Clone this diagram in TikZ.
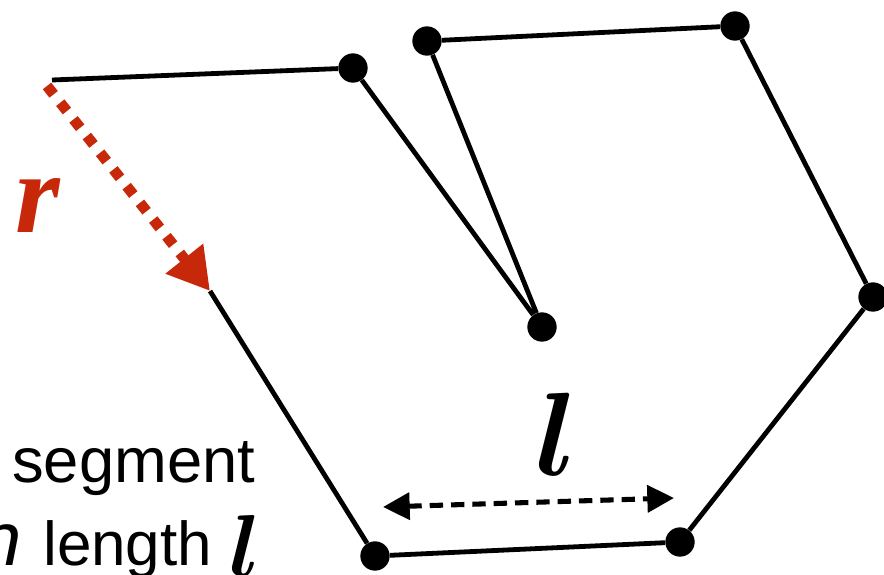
\documentclass[tikz,border=0pt]{standalone}
\usepackage{fix-cm}
\usepackage{amsmath}
\usepackage{fontspec}
\setmainfont{Liberation Serif}
\setsansfont{Liberation Sans}
\usepackage{xcolor}
\usetikzlibrary{arrows.meta}
\definecolor{cRadius}{HTML}{C8280A}
\tikzset{
  link/.style   = {line width=3.6pt, line join=round},
  joint/.style  = {circle, fill=black, inner sep=0pt, minimum size=22pt},
  rad/.style    = {draw=cRadius, line width=8pt, dash pattern=on 8pt off 8pt,
                   -{Triangle[length=31pt,width=34pt]}},
  span/.style   = {line width=3.8pt, dash pattern=on 10pt off 6pt,
                   {Triangle[length=20pt,width=20pt]}-{Triangle[length=20pt,width=20pt]}},
  var/.style    = {font=\fontsize{86}{86}\selectfont\bfseries\itshape, inner sep=0pt},
  txt/.style    = {font=\fontsize{46.5}{46.5}\selectfont\sffamily, inner sep=0pt},
}

\begin{document}
\begin{tikzpicture}[x=0.75pt, y=-0.75pt]
  \clip (0,0) rectangle (884,574);

  % chain of segments
  \coordinate (a0) at (52,80);
  \node[joint] (p1) at (353,68) {};
  \node[joint] (p2) at (542,327) {};
  \node[joint] (p3) at (427,41) {};
  \node[joint] (p4) at (735,26) {};
  \node[joint] (p5) at (873,297) {};
  \node[joint] (p6) at (680,542) {};
  \node[joint] (p7) at (375,556) {};
  \coordinate (a8) at (210,291);

  \draw[link] (a0) -- (p1) -- (p2) -- (p3) -- (p4) -- (p5) -- (p6) -- (p7) -- (a8);

  % radius
  \coordinate (r0) at (47,86);
  \draw[rad] (r0) -- (a8);
  \node[var, text=cRadius, anchor=base] (rlab) at (38,232) {r};

  % segment length
  \coordinate (s0) at (383,507);
  \coordinate (s1) at (674,498);
  \draw[span] (s0) -- (s1);
  \node[var, anchor=base, font=\fontsize{89}{89}\selectfont] (llab) at (557,475) {$\boldsymbol{l}$};

  \node[txt, anchor=base west, font=\fontsize{47.5}{47.5}\selectfont\sffamily] (seg) at (12,482) {segment};
  \node[txt, anchor=base east, font=\fontsize{57}{57}\selectfont\sffamily\itshape] (ntail) at (22,565) {n};
  \node[txt, anchor=base west] (len) at (43,565) {length};
  \node[var, anchor=base west, font=\fontsize{66}{66}\selectfont\bfseries\itshape] (lvar) at (229,576) {$\boldsymbol{l}$};
\end{tikzpicture}
\end{document}
